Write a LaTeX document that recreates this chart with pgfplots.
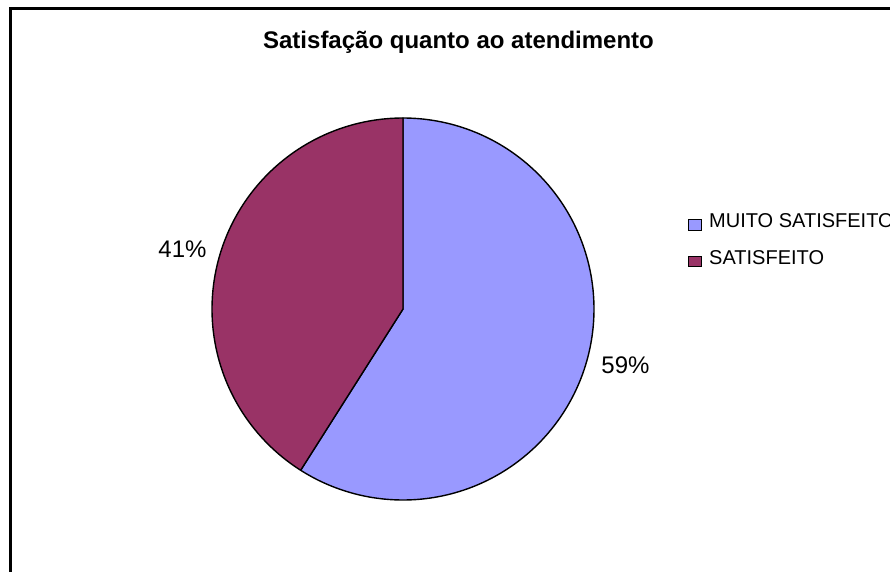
\documentclass[border=0pt]{standalone}
\usepackage{fontspec}
\setmainfont{Liberation Sans}
\usepackage{pgfplots}
\usepackage{pgfplotstable}
\pgfplotsset{compat=1.18}
\usepgfplotslibrary{polar}
\definecolor{sliceA}{HTML}{9999FF}
\definecolor{sliceB}{HTML}{993366}
\pgfplotstableread{
label value
MUITO 59
SATIS 41
}\piedata
\pgfplotstablegetelem{0}{value}\of\piedata \let\valA\pgfplotsretval
\pgfplotstablegetelem{1}{value}\of\piedata \let\valB\pgfplotsretval
\pgfmathsetmacro{\angStart}{90}
\pgfmathsetmacro{\angMid}{90-3.6*\valA}
\pgfmathsetmacro{\angEnd}{\angMid-3.6*\valB}
\begin{document}
\begin{tikzpicture}[x=1pt,y=1pt]
\useasboundingbox (0,0) rectangle (890,571);
\fill[white] (0,0) rectangle (890,571);
\draw[line width=2.5pt] (10.7,-5) -- (10.7,562.3) -- (900,562.3);
\node[font=\fontsize{24}{28}\selectfont\bfseries] at (458.5,528.5) {Satisfação quanto ao atendimento};
\begin{polaraxis}[
  at={(403pt,262pt)}, anchor=center,
  hide axis, scale only axis,
  width=382pt, height=382pt,
  xmin=0, xmax=360, ymin=0, ymax=1,
  clip=false,
]
\addplot[fill=sliceA, draw=black, line width=1.4pt, line join=round, domain=\angMid:\angStart, samples=200] {1} -- (axis cs:0,0) -- cycle;
\addplot[fill=sliceB, draw=black, line width=1.4pt, line join=round, domain=\angEnd:\angMid, samples=150] {1} -- (axis cs:0,0) -- cycle;
\end{polaraxis}
\node[font=\fontsize{24}{28}\selectfont] at (625.5,205.5) {\valA\%};
\node[font=\fontsize{24}{28}\selectfont] at (182.5,321.5) {\valB\%};
\draw[fill=sliceA, line width=1pt] (688,341) rectangle (701,351);
\draw[fill=sliceB, line width=1pt] (688,305) rectangle (701,315);
\node[font=\fontsize{20}{24}\selectfont, anchor=base west, inner sep=0pt] at (709,344) {MUITO SATISFEITO};
\node[font=\fontsize{20}{24}\selectfont, anchor=base west, inner sep=0pt] at (709,306.5) {SATISFEITO};
\end{tikzpicture}
\end{document}
